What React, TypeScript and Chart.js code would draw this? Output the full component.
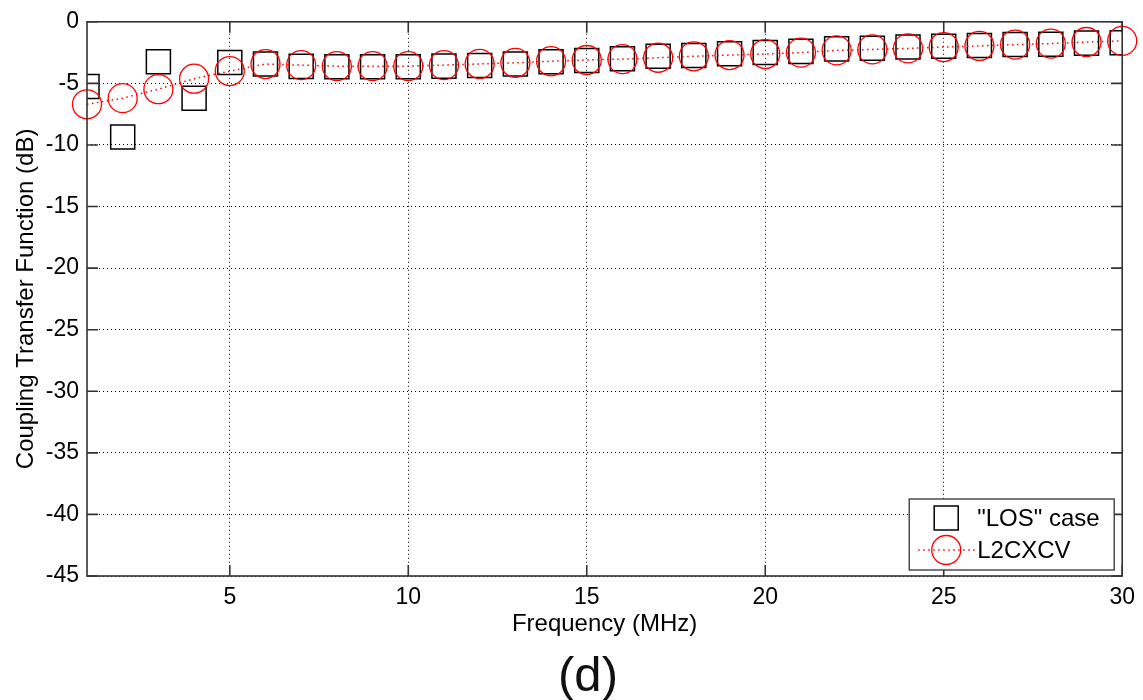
import React, { useEffect, useRef } from "react";
import { Chart, registerables } from "chart.js";

Chart.register(...registerables);

const frequencies = [1, 2, 3, 4, 5, 6, 7, 8, 9, 10, 11, 12, 13, 14, 15, 16, 17, 18, 19, 20, 21, 22, 23, 24, 25, 26, 27, 28, 29, 30];
const losCase = [-5.25, -9.35, -3.25, -6.2, -3.3, -3.43, -3.62, -3.65, -3.65, -3.65, -3.6, -3.54, -3.43, -3.25, -3.15, -3.0, -2.8, -2.73, -2.6, -2.5, -2.4, -2.2, -2.14, -2.05, -1.99, -1.93, -1.85, -1.82, -1.73, -1.7];
const l2cxcv = [-6.7, -6.2, -5.47, -4.62, -4.0, -3.43, -3.52, -3.6, -3.6, -3.6, -3.52, -3.42, -3.33, -3.2, -3.1, -3.03, -2.92, -2.8, -2.7, -2.62, -2.5, -2.32, -2.24, -2.16, -2.05, -1.96, -1.85, -1.77, -1.64, -1.55];
const xTickValues = [5, 10, 15, 20, 25, 30];
const yTickValues = [0, -5, -10, -15, -20, -25, -30, -35, -40, -45];
const seriesLabels = ['"LOS" case', "L2CXCV"];
const xAxisLabel = "Frequency (MHz)";
const yAxisLabel = "Coupling Transfer Function (dB)";
const panelLabel = "(d)";

const FONT = "'Liberation Sans', Arial, sans-serif";

const framePlugin = {
  id: "matlabFrame",
  afterDraw(chart: any) {
    const { ctx, chartArea } = chart;
    const { left, right, top, bottom } = chartArea;
    const xs = chart.scales.x;
    const ys = chart.scales.y;
    ctx.save();
    // frame
    ctx.strokeStyle = "#333";
    ctx.lineWidth = 1.6;
    ctx.setLineDash([]);
    ctx.strokeRect(left, top, right - left, bottom - top);
    // inward tick marks
    ctx.beginPath();
    const tl = 11;
    xTickValues.forEach((v) => {
      const px = xs.getPixelForValue(v);
      ctx.moveTo(px, bottom);
      ctx.lineTo(px, bottom - tl);
      ctx.moveTo(px, top);
      ctx.lineTo(px, top + tl);
    });
    yTickValues.forEach((v) => {
      const py = ys.getPixelForValue(v);
      ctx.moveTo(left, py);
      ctx.lineTo(left + tl, py);
      ctx.moveTo(right, py);
      ctx.lineTo(right - tl, py);
    });
    ctx.stroke();

    // legend
    const bx = right - 213;
    const by = bottom - 77;
    const bw = 205;
    const bh = 71;
    ctx.fillStyle = "#fff";
    ctx.fillRect(bx, by, bw, bh);
    ctx.strokeStyle = "#333";
    ctx.lineWidth = 1.3;
    ctx.strokeRect(bx, by, bw, bh);
    const mx = bx + 37;
    const y1 = by + 19;
    const y2 = by + 51;
    // square marker
    ctx.strokeStyle = "#000";
    ctx.lineWidth = 1.5;
    ctx.strokeRect(mx - 12, y1 - 12, 24, 24);
    // red dotted line + circle
    ctx.strokeStyle = "#ff0000";
    ctx.lineWidth = 1.5;
    ctx.setLineDash([1.5, 3.5]);
    ctx.beginPath();
    ctx.moveTo(bx + 9, y2);
    ctx.lineTo(bx + 66, y2);
    ctx.stroke();
    ctx.setLineDash([]);
    ctx.lineWidth = 1.3;
    ctx.beginPath();
    ctx.arc(mx, y2, 14.5, 0, Math.PI * 2);
    ctx.stroke();
    ctx.fillStyle = "#000";
    ctx.font = `24px ${FONT}`;
    ctx.textAlign = "left";
    ctx.textBaseline = "middle";
    ctx.fillText(seriesLabels[0], bx + 68, y1 + 1);
    ctx.fillText(seriesLabels[1], bx + 68, y2 + 1);

    // panel label
    ctx.font = `49px ${FONT}`;
    ctx.textAlign = "center";
    ctx.fillStyle = "#111";
    ctx.fillText(panelLabel, 588, 677);
    ctx.restore();
  },
};

export default function App() {
  const canvasRef = useRef<HTMLCanvasElement | null>(null);

  useEffect(() => {
    if (!canvasRef.current) return;
    const chart = new Chart(canvasRef.current, {
      type: "line",
      data: {
        datasets: [
          {
            label: seriesLabels[0],
            data: frequencies.map((f, i) => ({ x: f, y: losCase[i] })),
            showLine: false,
            pointStyle: "rect",
            pointRadius: 17,
            pointHoverRadius: 17,
            pointBorderColor: "#000",
            pointBackgroundColor: "rgba(0,0,0,0)",
            pointBorderWidth: 1.5,
            borderColor: "#000",
            backgroundColor: "rgba(0,0,0,0)",
            order: 2,
          },
          {
            label: seriesLabels[1],
            data: frequencies.map((f, i) => ({ x: f, y: l2cxcv[i] })),
            showLine: true,
            borderColor: "#ff0000",
            borderWidth: 1.5,
            borderDash: [1.5, 3.5],
            tension: 0,
            pointStyle: "circle",
            pointRadius: 14.5,
            pointHoverRadius: 14.5,
            pointBorderColor: "#ff0000",
            pointBackgroundColor: "rgba(0,0,0,0)",
            pointBorderWidth: 1.3,
            backgroundColor: "rgba(0,0,0,0)",
            order: 1,
            clip: false as any,
          },
        ],
      },
      options: {
        animation: false,
        responsive: false,
        devicePixelRatio: 1,
        layout: { padding: { left: 0, top: 20, right: 20, bottom: 0 } },
        plugins: {
          legend: { display: false },
          tooltip: { enabled: false },
        },
        scales: {
          x: {
            type: "linear",
            min: 1,
            max: 30,
            afterBuildTicks: (s: any) => {
              s.ticks = xTickValues.map((v) => ({ value: v }));
            },
            afterFit: (s: any) => {
              s.height = 124;
            },
            ticks: {
              font: { family: FONT, size: 23 },
              color: "#000",
              padding: 8,
              maxRotation: 0,
              autoSkip: false,
            },
            grid: { color: "#000", lineWidth: 1, drawTicks: false, borderDash: [1, 3] } as any,
            border: { display: false, dash: [1, 3] },
            title: {
              display: true,
              text: xAxisLabel,
              color: "#000",
              font: { family: FONT, size: 24 },
              padding: { top: 0, bottom: 61 },
            },
          },
          y: {
            type: "linear",
            min: -45,
            max: 0,
            afterBuildTicks: (s: any) => {
              s.ticks = yTickValues.map((v) => ({ value: v }));
            },
            afterFit: (s: any) => {
              s.width = 87;
            },
            ticks: {
              font: { family: FONT, size: 23 },
              color: "#000",
              padding: 8,
              autoSkip: false,
            },
            grid: { color: "#000", lineWidth: 1, drawTicks: false, borderDash: [1, 3] } as any,
            border: { display: false, dash: [1, 3] },
            title: {
              display: true,
              text: yAxisLabel,
              color: "#000",
              font: { family: FONT, size: 24 },
              padding: { top: 12, bottom: 0 },
            },
          },
        },
      },
      plugins: [framePlugin],
    });
    return () => chart.destroy();
  }, []);

  return (
    <div style={{ position: "fixed", left: 0, top: 0, width: 1143, height: 700, background: "#fff" }}>
      <canvas ref={canvasRef} width={1143} height={700} />
    </div>
  );
}
